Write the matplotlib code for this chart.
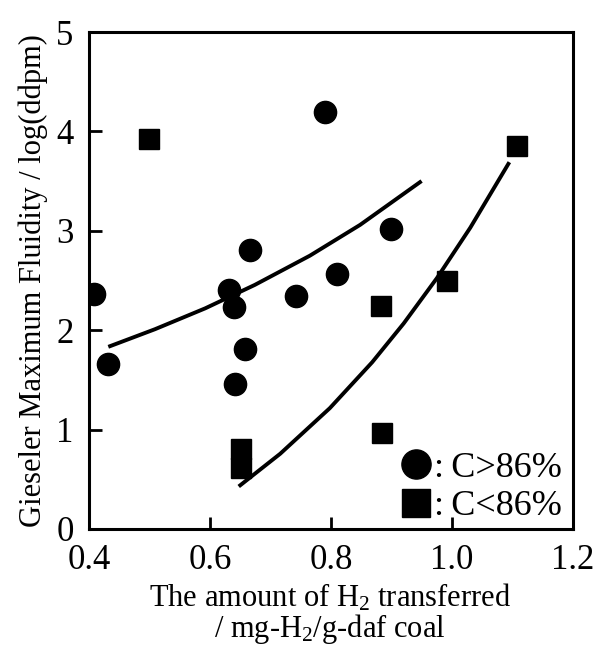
import matplotlib
matplotlib.use('Agg')
import matplotlib.pyplot as plt
from matplotlib.lines import Line2D

plt.rcParams['font.family'] = ['Liberation Serif', 'DejaVu Serif']
plt.rcParams['mathtext.default'] = 'regular'

# C > 86 % coals
hi_c_x = [0.408, 0.431, 0.631, 0.640, 0.666, 0.658, 0.641, 0.742, 0.790, 0.810, 0.899]
hi_c_y = [2.36, 1.66, 2.40, 2.23, 2.81, 1.81, 1.46, 2.34, 4.20, 2.57, 3.02]

# C < 86 % coals
lo_c_x = [0.499, 1.107, 0.992, 0.882, 0.884, 0.652, 0.652]
lo_c_y = [3.92, 3.85, 2.50, 2.24, 0.97, 0.80, 0.61]

# trend curves
hi_fit_x = [0.435, 0.509, 0.592, 0.674, 0.765, 0.848, 0.947]
hi_fit_y = [1.84, 2.01, 2.22, 2.456, 2.75, 3.06, 3.49]
lo_fit_x = [0.650, 0.716, 0.798, 0.868, 0.920, 0.975, 1.030, 1.093]
lo_fit_y = [0.44, 0.757, 1.216, 1.678, 2.068, 2.525, 3.031, 3.674]

x_ticks = [0.4, 0.6, 0.8, 1.0, 1.2]
y_ticks = [0, 1, 2, 3, 4, 5]

fig = plt.figure(figsize=(5.97, 6.47), dpi=100)
ax = fig.add_axes([0.149, 0.1824, 0.811, 0.768])

ax.plot(hi_fit_x, hi_fit_y, color='black', lw=2.8, solid_joinstyle='round')
ax.plot(lo_fit_x, lo_fit_y, color='black', lw=2.8, solid_joinstyle='round')
ax.plot(hi_c_x, hi_c_y, 'o', color='black', ms=16, ls='none')
ax.plot(lo_c_x, lo_c_y, 's', color='black', ms=15, ls='none')

ax.set_xlim(0.4, 1.2)
ax.set_ylim(0, 5)
ax.set_xticks(x_ticks)
ax.set_xticklabels(['%.1f' % v for v in x_ticks])
ax.set_yticks(y_ticks)
ax.tick_params(direction='in', length=9, width=2, labelsize=25, pad=11,
               top=False, right=False)
for s in ax.spines.values():
    s.set_linewidth(2.2)

ax.set_ylabel('Gieseler Maximum Fluidity / log(ddpm)', fontsize=22, labelpad=6)

# two-line x axis label
fig.text(0.553, 0.0757, 'The amount of $H_2$ transferred', fontsize=22,
         ha='center', va='center')
fig.text(0.553, 0.0280, '/ mg-$H_2$/g-daf coal', fontsize=22,
         ha='center', va='center')

handles = [Line2D([], [], marker='o', color='black', ms=21, ls='none'),
           Line2D([], [], marker='s', color='black', ms=20, ls='none')]
ax.legend(handles, [':\u2009C>86%', ':\u2009C<86%'], loc='lower right',
          bbox_to_anchor=(1.022, -0.032), frameon=False, fontsize=26,
          handletextpad=0.35, labelspacing=0.15, borderaxespad=0.2,
          handlelength=0.3)

fig.savefig('out.png', dpi=100)
